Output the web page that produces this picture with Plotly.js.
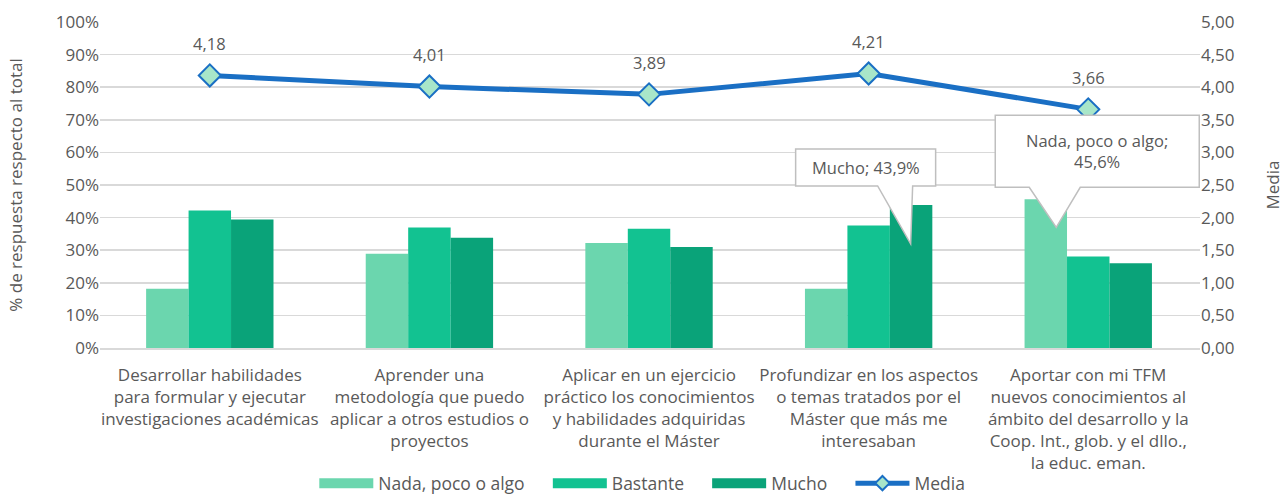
<!DOCTYPE html>
<html>
<head>
<meta charset="utf-8">
<script src="https://cdn.plot.ly/plotly-3.0.1.min.js"></script>
<style>html,body{margin:0;padding:0;background:#fff;}#chart{width:1284px;height:495px;}</style>
</head>
<body>
<div id="chart"></div>
<script>
var categories = [
  "Desarrollar habilidades<br>para formular y ejecutar<br>investigaciones académicas",
  "Aprender una<br>metodología que puedo<br>aplicar a otros estudios o<br>proyectos",
  "Aplicar en un ejercicio<br>práctico los conocimientos<br>y habilidades adquiridas<br>durante el Máster",
  "Profundizar en los aspectos<br>o temas tratados por el<br>Máster que más me<br>interesaban",
  "Aportar con mi TFM<br>nuevos conocimientos al<br>ámbito del desarrollo y la<br>Coop. Int., glob. y el dllo.,<br>la educ. eman."
];
var seriesNames = ["Nada, poco o algo", "Bastante", "Mucho"];
var nada = [18.2, 28.9, 32.2, 18.2, 45.6];
var bastante = [42.2, 37.0, 36.6, 37.6, 28.1];
var mucho = [39.4, 33.8, 31.0, 43.9, 26.0];
var media = [4.18, 4.01, 3.89, 4.21, 3.66];
var mediaName = "Media";
var leftTicks = [0,10,20,30,40,50,60,70,80,90,100];
var rightTicks = [0,0.5,1,1.5,2,2.5,3,3.5,4,4.5,5];

var colors = ["#6BD6AE", "#12C291", "#0AA379"];
var lineColor = "#1A6FC4";
var textColor = "#595959";
var font = "Open Sans, Noto Sans, sans-serif";
var pad = "&nbsp;&nbsp;&nbsp;&nbsp;";

function fmt(v, d) { return v.toFixed(d).replace('.', ','); }

var barData = [nada, bastante, mucho];
var traces = [];
for (var i = 0; i < 3; i++) {
  traces.push({
    type: 'bar', x: categories, y: barData[i], name: seriesNames[i],
    marker: {color: colors[i], line: {width: 0}},
    showlegend: false
  });
}
traces.push({
  type: 'scatter', mode: 'lines+markers', x: categories, y: media, yaxis: 'y2',
  name: mediaName, line: {color: lineColor, width: 5},
  marker: {symbol: 'diamond', size: 17, color: '#A8E6C9', line: {color: lineColor, width: 2}},
  showlegend: false
});
// legend entries
for (var j = 0; j < 3; j++) {
  traces.push({
    type: 'scatter', mode: 'lines', x: [null], y: [null], name: seriesNames[j] + pad,
    line: {color: colors[j], width: 12}, showlegend: true
  });
}
traces.push({
  type: 'scatter', mode: 'lines+markers', x: [null], y: [null], name: mediaName,
  line: {color: lineColor, width: 5},
  marker: {symbol: 'diamond', size: 11, color: '#A8E6C9', line: {color: lineColor, width: 2}},
  showlegend: true
});

var annotations = [];
for (var k = 0; k < media.length; k++) {
  annotations.push({
    x: categories[k], y: media[k], xref: 'x', yref: 'y2', text: fmt(media[k], 2),
    showarrow: false, yshift: 32, font: {family: font, size: 16.5, color: textColor}
  });
}
// callouts
annotations.push({
  x: 3, y: mucho[3], xref: 'x', yref: 'y', text: seriesNames[2] + '; ' + fmt(mucho[3], 1) + '%',
  showarrow: false, xshift: -3, yshift: 37, font: {family: font, size: 16.5, color: textColor}
});
annotations.push({
  x: 4, y: nada[4], xref: 'x', yref: 'y', text: seriesNames[0] + ';<br>' + fmt(nada[4], 1) + '%',
  showarrow: false, xshift: 9, yshift: 48, font: {family: font, size: 16.5, color: textColor}
});

var shapes = [
  {type: 'path', xref: 'x', yref: 'y', xsizemode: 'pixel', ysizemode: 'pixel',
   xanchor: 3, yanchor: mucho[3], layer: 'above',
   path: 'M -73,56 L 67,56 L 67,19 L 44,19 L 42,-39 L 9,19 L -73,19 Z',
   fillcolor: '#FFFFFF', line: {color: '#BFBFBF', width: 1.5}},
  {type: 'path', xref: 'x', yref: 'y', xsizemode: 'pixel', ysizemode: 'pixel',
   xanchor: 4, yanchor: nada[4], layer: 'above',
   path: 'M -93,84 L 111,84 L 111,12 L -8,12 L -32,-28 L -59,12 L -93,12 Z',
   fillcolor: '#FFFFFF', line: {color: '#BFBFBF', width: 1.5}}
];

var layout = {
  width: 1284, height: 495,
  margin: {l: 100, r: 84, t: 22, b: 147, autoexpand: false},
  paper_bgcolor: '#fff', plot_bgcolor: '#fff',
  separators: ', ',
  barmode: 'group', bargap: 0.42, bargroupgap: 0,
  font: {family: font, size: 17, color: textColor},
  xaxis: {
    type: 'category', showgrid: false, showline: true, linecolor: '#D9D9D9', linewidth: 1.5,
    ticks: '', ticklabelstandoff: 11,
    tickfont: {family: font, size: 17, color: textColor}, automargin: false
  },
  yaxis: {
    range: [0, 100], tickvals: leftTicks, ticktext: leftTicks.map(function(v){return v + '%';}),
    showgrid: true, gridcolor: '#D9D9D9', gridwidth: 1.5, zeroline: false, showline: false,
    tickfont: {family: font, size: 17, color: textColor}, automargin: false,
    title: {text: '% de respuesta respecto al total', font: {family: font, size: 17, color: textColor}, standoff: 28}
  },
  yaxis2: {
    range: [0, 5], overlaying: 'y', side: 'right', tickvals: rightTicks,
    ticktext: rightTicks.map(function(v){return fmt(v, 2);}),
    showgrid: false, zeroline: false, showline: false,
    tickfont: {family: font, size: 17, color: textColor}, automargin: false,
    title: {text: mediaName, font: {family: font, size: 17, color: textColor}, standoff: 33}
  },
  legend: {
    orientation: 'h', x: 0.493, xanchor: 'center', y: -0.415, yanchor: 'middle',
    font: {family: font, size: 17.5, color: textColor}, itemwidth: 54, traceorder: 'normal',
    bgcolor: 'rgba(0,0,0,0)'
  },
  annotations: annotations,
  shapes: shapes,
  hovermode: false
};

Plotly.newPlot('chart', traces, layout, {displayModeBar: false, staticPlot: true});
</script>
</body>
</html>
